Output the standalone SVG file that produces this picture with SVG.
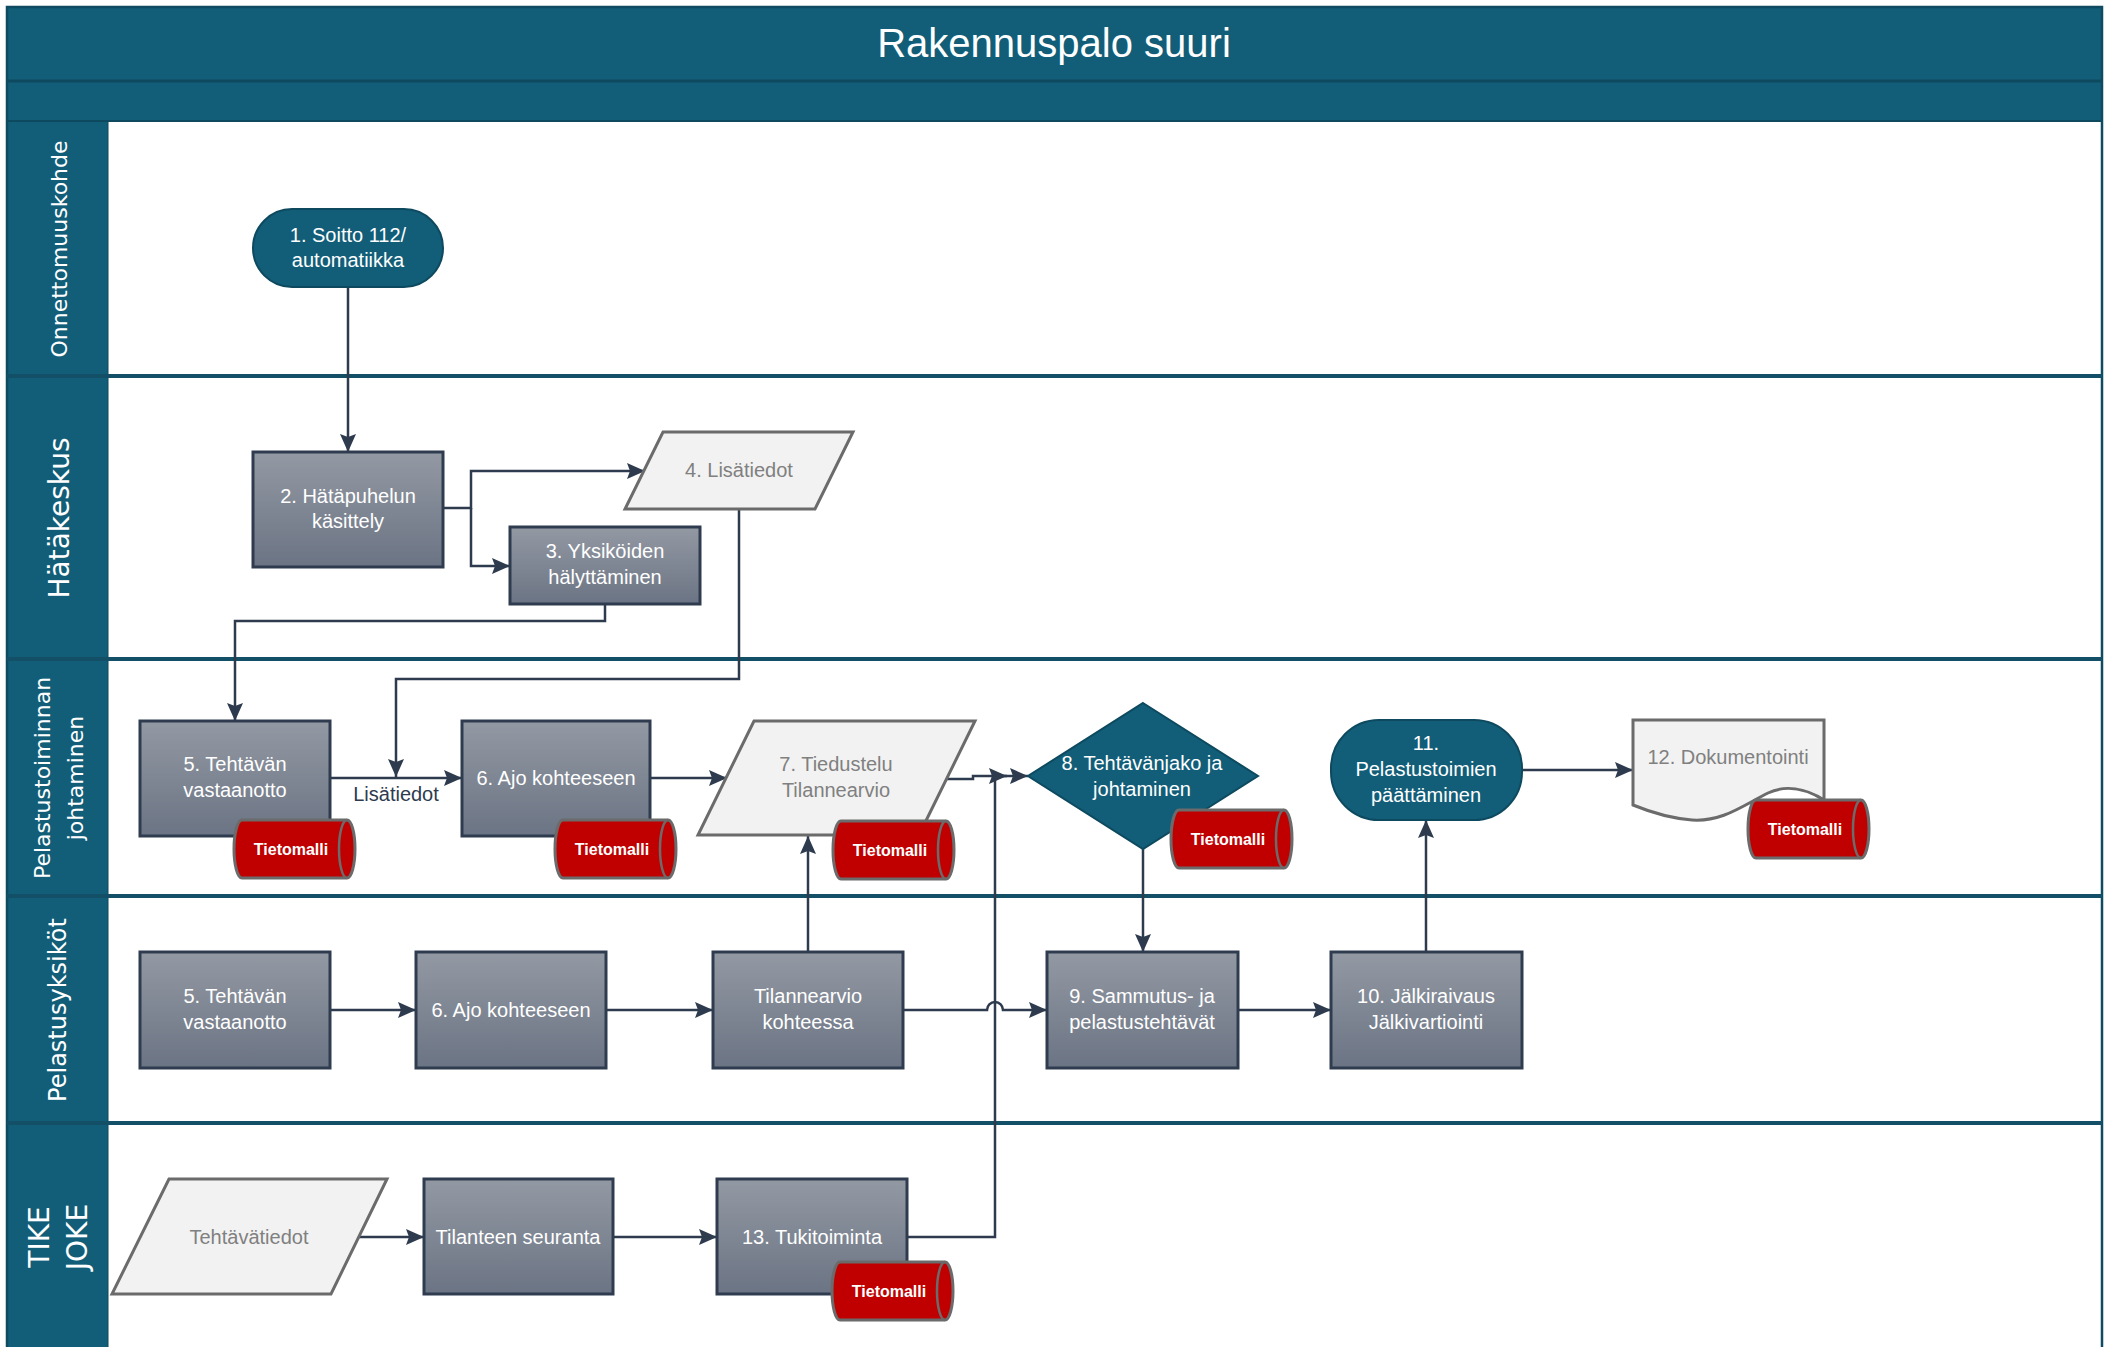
<svg xmlns="http://www.w3.org/2000/svg" width="2114" height="1347" viewBox="0 0 2114 1347">
  <defs>
    <linearGradient id="boxGrad" x1="0" y1="0" x2="0" y2="1">
      <stop offset="0" stop-color="#9399a3"/>
      <stop offset="1" stop-color="#6b7484"/>
    </linearGradient>
    <marker id="arrow" markerUnits="userSpaceOnUse" markerWidth="18" markerHeight="16" viewBox="0 0 18 16" refX="18" refY="8" orient="auto">
      <path d="M0,0 L18,8 L0,16 L3,8 Z" fill="#2e3b4e"/>
    </marker>
    <g id="tm-shape">
      <path d="M8,0 H113 A8,29 0 0 1 113,58 H8 A8,29 0 0 1 8,0 Z" fill="#c00000" stroke="#6b6b6b" stroke-width="3"/>
      <path d="M113,0 A8,29 0 0 0 113,58" fill="none" stroke="#6b6b6b" stroke-width="2.5"/>
    </g>
    <style>
      .lane-band { fill: #125e78; }
      .sep { stroke: #134f66; stroke-width: 4; }
      .lane-label { font-family: "DejaVu Sans", "Liberation Sans", sans-serif; fill: #ffffff; text-anchor: middle; }
      .title { font-family: "Liberation Sans", Arial, sans-serif; font-size: 40px; fill: #ffffff; text-anchor: middle; }
      .box { fill: url(#boxGrad); stroke: #2f3c4f; stroke-width: 3; }
      .term { fill: #125e78; stroke: #0d4a60; stroke-width: 2; }
      .data { fill: #f2f2f2; stroke: #6b6b6b; stroke-width: 3; }
      .t { font-family: "Liberation Sans", Arial, sans-serif; font-size: 20px; text-anchor: middle; }
      .tw { fill: #ffffff; }
      .tg { fill: #808080; }
      .td { fill: #2e3b4e; }
      .tm { font-family: "Liberation Sans", Arial, sans-serif; font-size: 16px; font-weight: bold; fill: #ffffff; text-anchor: middle; }
      .conn { fill: none; stroke: #2e3b4e; stroke-width: 2.5; }
    </style>
  </defs>

  <rect width="2114" height="1347" fill="#ffffff"/>

  <!-- Pool frame, title and lanes -->
  <g id="pool">
    <rect x="7" y="7" width="2095" height="114" class="lane-band"/>
    <rect x="7" y="121" width="101" height="1226" class="lane-band"/>
    <rect x="7" y="7" width="2095" height="1345" fill="none" stroke="#0e4a60" stroke-width="2.5"/>
    <line x1="7" y1="81" x2="2102" y2="81" stroke="#0d4a5f" stroke-width="3"/>
    <line x1="7" y1="121" x2="2102" y2="121" stroke="#0d4a5f" stroke-width="2"/>
    <line x1="108" y1="121" x2="108" y2="1347" stroke="#0d4a5f" stroke-width="1"/>
    <line x1="7" y1="376" x2="2102" y2="376" class="sep"/>
    <line x1="7" y1="659" x2="2102" y2="659" class="sep"/>
    <line x1="7" y1="896" x2="2102" y2="896" class="sep"/>
    <line x1="7" y1="1123" x2="2102" y2="1123" class="sep"/>
    <text x="1054" y="57" class="title">Rakennuspalo suuri</text>
    <text class="lane-label" font-size="22" transform="translate(67,249) rotate(-90)">Onnettomuuskohde</text>
    <text class="lane-label" font-size="28" transform="translate(69,518) rotate(-90)">Hätäkeskus</text>
    <text class="lane-label" font-size="22" transform="translate(50,778) rotate(-90)">Pelastustoiminnan</text>
    <text class="lane-label" font-size="22" transform="translate(83,778) rotate(-90)">johtaminen</text>
    <text class="lane-label" font-size="24" transform="translate(66,1010) rotate(-90)">Pelastusyksiköt</text>
    <text class="lane-label" font-size="28" transform="translate(49,1237) rotate(-90)">TIKE</text>
    <text class="lane-label" font-size="28" transform="translate(87,1237) rotate(-90)">JOKE</text>
  </g>

  <!-- Connectors -->
  <g id="connectors">
    <path class="conn" d="M348,287 V452" marker-end="url(#arrow)"/>
    <path class="conn" d="M443,508 H471 V471 H645" marker-end="url(#arrow)"/>
    <path class="conn" d="M471,508 V566 H510" marker-end="url(#arrow)"/>
    <path class="conn" d="M605,604 V621 H235 V721" marker-end="url(#arrow)"/>
    <path class="conn" d="M739,509 V679 H396 V777" marker-end="url(#arrow)"/>
    <path class="conn" d="M330,778 H462" marker-end="url(#arrow)"/>
    <text x="396" y="801" class="t td">Lisätiedot</text>
    <path class="conn" d="M650,778 H727" marker-end="url(#arrow)"/>
    <path class="conn" d="M947,779 H973 V776 H1007" marker-end="url(#arrow)"/>
    <path class="conn" d="M907,1237 H995 V776 H1028" marker-end="url(#arrow)"/>
    <path class="conn" d="M1143,849 V952" marker-end="url(#arrow)"/>
    <path class="conn" d="M1522,770 H1633" marker-end="url(#arrow)"/>
    <path class="conn" d="M1426,952 V820" marker-end="url(#arrow)"/>
    <path class="conn" d="M808,952 V836" marker-end="url(#arrow)"/>
    <path class="conn" d="M330,1010 H416" marker-end="url(#arrow)"/>
    <path class="conn" d="M606,1010 H713" marker-end="url(#arrow)"/>
    <path class="conn" d="M903,1010 H987 A8,8 0 0 1 1003,1010 H1047" marker-end="url(#arrow)"/>
    <path class="conn" d="M1238,1010 H1331" marker-end="url(#arrow)"/>
    <path class="conn" d="M359,1237 H424" marker-end="url(#arrow)"/>
    <path class="conn" d="M613,1237 H717" marker-end="url(#arrow)"/>
  </g>

  <!-- Onnettomuuskohde -->
  <g id="n1">
    <rect x="253" y="209" width="190" height="78" rx="39" ry="39" class="term"/>
    <text x="348" y="242" class="t tw">1. Soitto 112/</text>
    <text x="348" y="267" class="t tw">automatiikka</text>
  </g>

  <!-- Hätäkeskus -->
  <g id="n2">
    <rect x="253" y="452" width="190" height="115" class="box"/>
    <text x="348" y="503" class="t tw">2. Hätäpuhelun</text>
    <text x="348" y="528" class="t tw">käsittely</text>
  </g>
  <g id="n3">
    <rect x="510" y="527" width="190" height="77" class="box"/>
    <text x="605" y="558" class="t tw">3. Yksiköiden</text>
    <text x="605" y="584" class="t tw">hälyttäminen</text>
  </g>
  <g id="n4">
    <polygon points="663,432 853,432 815,509 625,509" class="data"/>
    <text x="739" y="477" class="t tg">4. Lisätiedot</text>
  </g>

  <!-- Pelastustoiminnan johtaminen -->
  <g id="n5">
    <rect x="140" y="721" width="190" height="115" class="box"/>
    <text x="235" y="771" class="t tw">5. Tehtävän</text>
    <text x="235" y="797" class="t tw">vastaanotto</text>
    <use href="#tm-shape" x="234" y="820"/>
    <text x="291" y="855" class="tm">Tietomalli</text>
  </g>
  <g id="n6">
    <rect x="462" y="721" width="188" height="115" class="box"/>
    <text x="556" y="785" class="t tw">6. Ajo kohteeseen</text>
    <use href="#tm-shape" x="555" y="820"/>
    <text x="612" y="855" class="tm">Tietomalli</text>
  </g>
  <g id="n7">
    <polygon points="754,721 975,721 919,835 698,835" class="data"/>
    <text x="836" y="771" class="t tg">7. Tiedustelu</text>
    <text x="836" y="797" class="t tg">Tilannearvio</text>
    <use href="#tm-shape" x="833" y="821"/>
    <text x="890" y="856" class="tm">Tietomalli</text>
  </g>
  <g id="n8">
    <polygon points="1143,703 1258,776 1143,849 1028,776" class="term"/>
    <text x="1142" y="770" class="t tw">8. Tehtävänjako ja</text>
    <text x="1142" y="796" class="t tw">johtaminen</text>
    <use href="#tm-shape" x="1171" y="810"/>
    <text x="1228" y="845" class="tm">Tietomalli</text>
  </g>
  <g id="n11">
    <rect x="1331" y="720" width="191" height="100" rx="48" ry="48" class="term"/>
    <text x="1426" y="750" class="t tw">11.</text>
    <text x="1426" y="776" class="t tw">Pelastustoimien</text>
    <text x="1426" y="802" class="t tw">päättäminen</text>
  </g>
  <g id="n12">
    <path d="M1633,720 H1824 V800 C1805,788 1785,785 1768,793 C1742,806 1722,822 1692,820 C1668,818 1650,812 1633,805 Z" class="data"/>
    <text x="1728" y="764" class="t tg">12. Dokumentointi</text>
    <use href="#tm-shape" x="1748" y="800"/>
    <text x="1805" y="835" class="tm">Tietomalli</text>
  </g>

  <!-- Pelastusyksiköt -->
  <g id="n5b">
    <rect x="140" y="952" width="190" height="116" class="box"/>
    <text x="235" y="1003" class="t tw">5. Tehtävän</text>
    <text x="235" y="1029" class="t tw">vastaanotto</text>
  </g>
  <g id="n6b">
    <rect x="416" y="952" width="190" height="116" class="box"/>
    <text x="511" y="1017" class="t tw">6. Ajo kohteeseen</text>
  </g>
  <g id="n7b">
    <rect x="713" y="952" width="190" height="116" class="box"/>
    <text x="808" y="1003" class="t tw">Tilannearvio</text>
    <text x="808" y="1029" class="t tw">kohteessa</text>
  </g>
  <g id="n9">
    <rect x="1047" y="952" width="191" height="116" class="box"/>
    <text x="1142" y="1003" class="t tw">9. Sammutus- ja</text>
    <text x="1142" y="1029" class="t tw">pelastustehtävät</text>
  </g>
  <g id="n10">
    <rect x="1331" y="952" width="191" height="116" class="box"/>
    <text x="1426" y="1003" class="t tw">10. Jälkiraivaus</text>
    <text x="1426" y="1029" class="t tw">Jälkivartiointi</text>
  </g>

  <!-- TIKE / JOKE -->
  <g id="n14">
    <polygon points="169,1179 387,1179 331,1294 112,1294" class="data"/>
    <text x="249" y="1244" class="t tg">Tehtävätiedot</text>
  </g>
  <g id="n15">
    <rect x="424" y="1179" width="189" height="115" class="box"/>
    <text x="518" y="1244" class="t tw">Tilanteen seuranta</text>
  </g>
  <g id="n13">
    <rect x="717" y="1179" width="190" height="115" class="box"/>
    <text x="812" y="1244" class="t tw">13. Tukitoiminta</text>
    <use href="#tm-shape" x="832" y="1262"/>
    <text x="889" y="1297" class="tm">Tietomalli</text>
  </g>
</svg>
